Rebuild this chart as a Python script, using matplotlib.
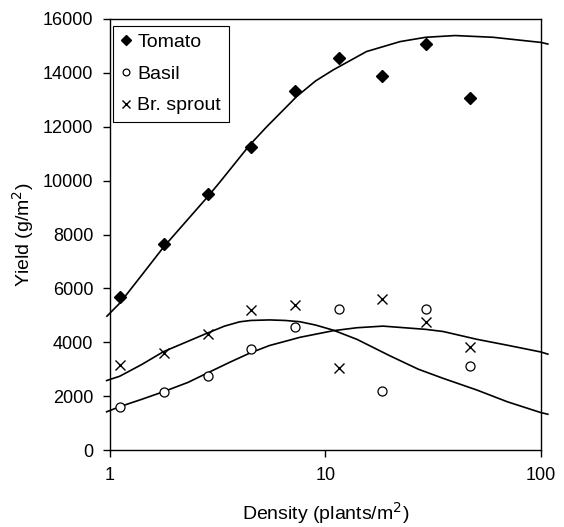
import numpy as np
import matplotlib
matplotlib.use("Agg")
import matplotlib.pyplot as plt

plt.rcParams['font.family'] = ['Liberation Sans', 'DejaVu Sans']

# measured points
density = [1.11, 1.78, 2.84, 4.5, 7.2, 11.5, 18.3, 29.2, 46.8]
tomato = [5670, 7640, 9510, 11240, 13320, 14560, 13890, 15060, 13050]
basil = [1590, 2140, 2750, 3740, 4570, 5240, 2190, 5240, 3130]
sprout = [3140, 3600, 4320, 5200, 5380, 3040, 5590, 4750, 3820]

# fitted curves
tomato_fit_d = [0.968, 1.11, 1.4, 1.78, 2.84, 3.24, 4.46, 5.34, 7.35, 9.0,
                10.87, 15.5, 22.2, 29.2, 40, 60, 100, 107.7]
tomato_fit = [4970, 5450, 6480, 7550, 9400, 9950, 11330, 12000, 13120, 13700,
              14110, 14790, 15160, 15320, 15385, 15320, 15130, 15070]
basil_fit_d = [0.965, 1.11, 1.4, 1.77, 2.3, 2.81, 3.6, 4.46, 5.5, 6.84, 7.6,
               10.87, 14, 18.5, 29.2, 35.2, 50.5, 70, 100, 107.7]
basil_fit = [1420, 1610, 1880, 2165, 2510, 2846, 3260, 3600, 3880, 4083, 4183,
             4430, 4540, 4600, 4480, 4400, 4110, 3890, 3640, 3560]
sprout_fit_d = [0.965, 1.11, 1.4, 1.77, 2.81, 3.4, 4.0, 4.5, 5.5, 6.5, 7.6,
                9.0, 10.87, 14, 19.9, 27, 35.2, 50.5, 70, 100, 107.7]
sprout_fit = [2580, 2740, 3170, 3650, 4330, 4600, 4760, 4810, 4830, 4810, 4764,
              4640, 4450, 4110, 3500, 3000, 2661, 2227, 1790, 1390, 1330]

fig = plt.figure(figsize=(5.64, 5.27), dpi=100)
ax = fig.add_axes([0.195, 0.146, 0.764, 0.818])

for d, fit in ((tomato_fit_d, tomato_fit), (basil_fit_d, basil_fit),
               (sprout_fit_d, sprout_fit)):
    ax.plot(d, fit, color='black', lw=1.2, clip_on=False, zorder=2,
            solid_joinstyle='round')

ax.plot(density, tomato, linestyle='none', marker='D', ms=6.5, color='black',
        label='Tomato', zorder=3)
ax.plot(density, basil, linestyle='none', marker='o', ms=6.5, mfc='white',
        mec='black', mew=0.9, label='Basil', zorder=3)
ax.plot(density, sprout, linestyle='none', marker='x', ms=7.5, color='black',
        mew=1.0, label='Br. sprout', zorder=3)

ax.set_xscale('log')
ax.set_xlim(1, 100)
ax.set_ylim(0, 16000)
ax.set_xticks([1, 10, 100])
ax.set_xticklabels(['1', '10', '100'])
ax.xaxis.set_minor_locator(matplotlib.ticker.NullLocator())
ax.set_yticks(np.arange(0, 16001, 2000))
ax.tick_params(direction='out', length=5, width=1, labelsize=13, pad=7)
for s in ax.spines.values():
    s.set_linewidth(1)

ax.set_xlabel('Density (plants/m$^2$)', fontsize=14, labelpad=12)
ax.set_ylabel('Yield (g/m$^2$)', fontsize=14, labelpad=5)

leg = ax.legend(loc='upper left', bbox_to_anchor=(0.007, 0.984),
                borderaxespad=0, fontsize=14, handlelength=0.5,
                handletextpad=0.35, borderpad=0.4, labelspacing=0.72,
                markerscale=0.75, fancybox=False, edgecolor='black',
                framealpha=1)
leg.get_frame().set_linewidth(0.8)

fig.savefig('out.png', dpi=100)
